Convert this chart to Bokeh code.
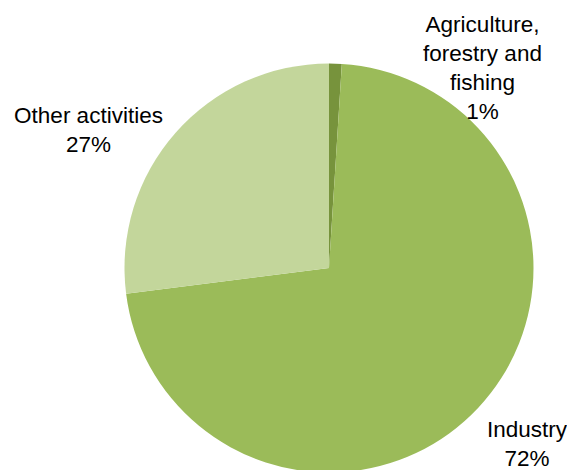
import math
from bokeh.plotting import figure
from bokeh.models import Range1d, ColumnDataSource
from bokeh.core.properties import value
from bokeh.embed import file_html
from bokeh.resources import INLINE

# ---- data ----
categories = ["Agriculture,\nforestry and\nfishing", "Industry", "Other activities"]
shares = [1, 72, 27]
colors = ["#77933C", "#9BBB59", "#C3D69B"]

# ---- layout (screen-like coordinates, y measured upward from bottom) ----
W, H = 567, 470
cx, cy = 328.5, H - 267.5
radius = 204.5
label_anchor = [(482, 32), (526.5, 436.5), (88, 122.5)]  # x, screen baseline of first line
line_step = 29.0
fs = 22.5
mid_offset = 0.35 * fs

p = figure(width=W, height=H, output_backend="svg", toolbar_location=None,
           x_range=Range1d(0, W), y_range=Range1d(0, H),
           min_border=0, outline_line_color=None)
p.axis.visible = False
p.grid.visible = False
p.background_fill_color = "white"
p.border_fill_color = "white"

total = float(sum(shares))
starts, ends = [], []
acc = 0.0
for s in shares:
    starts.append(math.pi / 2 - acc / total * 2 * math.pi)
    acc += s
    ends.append(math.pi / 2 - acc / total * 2 * math.pi)

src = ColumnDataSource(dict(start=starts, end=ends, color=colors,
                            x=[cx] * len(shares), y=[cy] * len(shares)))
p.wedge(x="x", y="y", radius=radius, start_angle="start", end_angle="end",
        direction="clock", fill_color="color", line_color=None, source=src)

tx, ty, tt = [], [], []
for cat, s, (ax, ay) in zip(categories, shares, label_anchor):
    lines = cat.split("\n") + [f"{s}%"]
    for i, ln in enumerate(lines):
        tx.append(ax)
        ty.append(H - (ay + i * line_step - mid_offset))
        tt.append(ln)

p.text(x=tx, y=ty, text=tt, text_align="center", text_baseline="middle",
       text_font=value("Liberation Sans"), text_font_size=f"{fs}px", text_color="#000000")

open("out.html", "w").write(file_html(p, INLINE))
